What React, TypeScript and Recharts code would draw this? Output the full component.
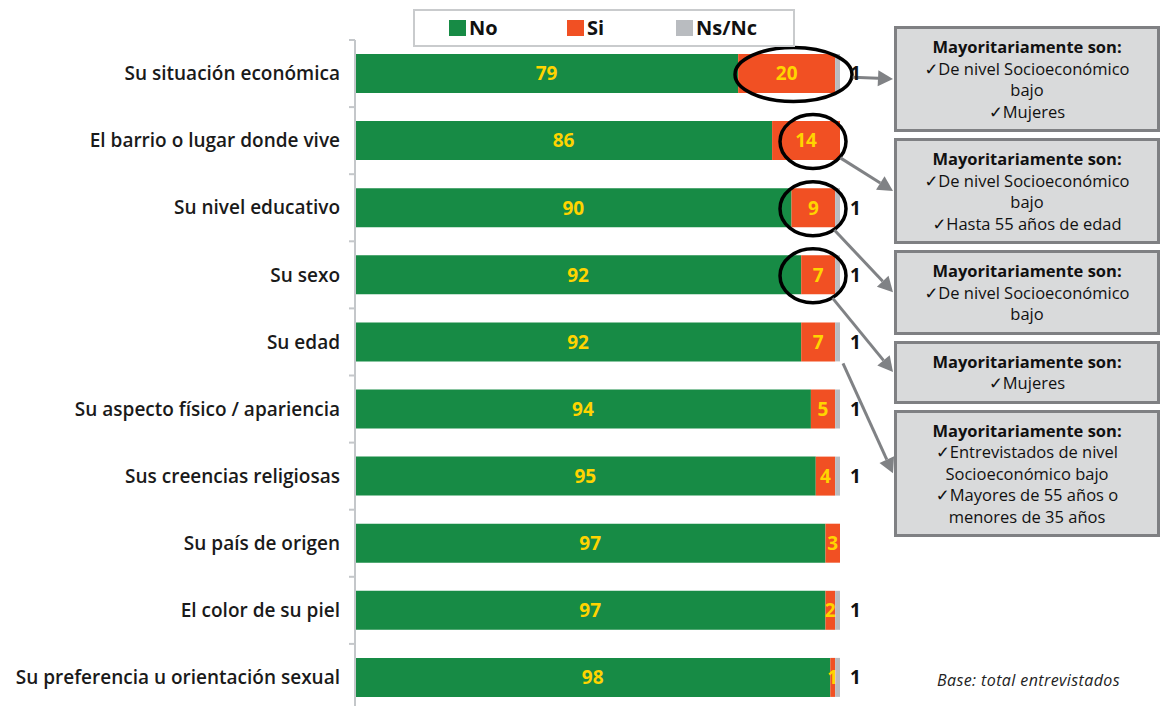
import React from 'react';
import { BarChart, Bar, XAxis, YAxis, LabelList, Legend } from 'recharts';

const categories = [
  'Su situación económica',
  'El barrio o lugar donde vive',
  'Su nivel educativo',
  'Su sexo',
  'Su edad',
  'Su aspecto físico / apariencia',
  'Sus creencias religiosas',
  'Su país de origen',
  'El color de su piel',
  'Su preferencia u orientación sexual',
];
const noValues = [79, 86, 90, 92, 92, 94, 95, 97, 97, 98];
const siValues = [20, 14, 9, 7, 7, 5, 4, 3, 2, 1];
const nsncValues = [1, 0, 1, 1, 1, 1, 1, 0, 1, 1];
const seriesKeys = ['no', 'si', 'nsnc'];
const seriesNames = ['No', 'Si', 'Ns/Nc'];
const highlightedRows = [0, 1, 2, 3];
const noteRows = [0, 1, 2, 3, 4];
const noteLines = [
  ['Mayoritariamente son:', '✓De nivel Socioeconómico', 'bajo', '✓Mujeres'],
  ['Mayoritariamente son:', '✓De nivel Socioeconómico', 'bajo', '✓Hasta 55 años de edad'],
  ['Mayoritariamente son:', '✓De nivel Socioeconómico', 'bajo'],
  ['Mayoritariamente son:', '✓Mujeres'],
  ['Mayoritariamente son:', '✓Entrevistados de nivel', 'Socioeconómico bajo', '✓Mayores de 55 años o', 'menores de 35 años'],
];
const baseNote = 'Base: total entrevistados';

const data = categories.map((c, i) => ({
  category: c,
  no: noValues[i],
  si: siValues[i],
  nsnc: nsncValues[i],
}));

// layout / style
const COLORS = ['#178B45', '#F15023', '#B9BCC0'];
const LABEL_YELLOW = '#FFD400';
const AXIS_COLOR = '#C4C7CA';
const FONT = '"Open Sans", "DejaVu Sans", sans-serif';
const CHART_W = 1160;
const CHART_H = 711;
const MARGIN = { top: 40, right: 320, bottom: 0, left: 0 };
const Y_AXIS_W = 355;
const PLOT_LEFT = MARGIN.left + Y_AXIS_W;
const PLOT_W = CHART_W - MARGIN.right - PLOT_LEFT;
const PX = PLOT_W / 100;
const BAND = (CHART_H - MARGIN.top - MARGIN.bottom) / categories.length;

const BOX_LEFT = 894;
const BOX_TOP0 = 26;
const BOX_GAP = 6;
const LINE_H = 21.5;
const BOX_PAD = 7;
const BOX_BORDER = 3;
const boxHeights = noteLines.map((l) => l.length * LINE_H + 2 * BOX_PAD + 2 * BOX_BORDER);
const boxTops = boxHeights.map((_, i) => BOX_TOP0 + boxHeights.slice(0, i).reduce((a, b) => a + b + BOX_GAP, 0));

const CategoryTick = (props: any) => {
  const { y, payload } = props;
  return (
    <g>
      <line x1={PLOT_LEFT - 6} x2={PLOT_LEFT} y1={y - BAND / 2} y2={y - BAND / 2} stroke={AXIS_COLOR} strokeWidth={2} />
      <text
        x={PLOT_LEFT - 15}
        y={y}
        dy="0.35em"
        textAnchor="end"
        fontFamily={FONT}
        fontWeight={600}
        fontSize={19}
        fill="#1A1A1A"
      >
        {payload.value}
      </text>
    </g>
  );
};

const getBox = (props: any) => {
  const vb = props.viewBox && props.viewBox.height !== undefined ? props.viewBox : props;
  return { x: Number(vb.x), y: Number(vb.y), width: Number(vb.width), height: Number(vb.height) };
};
const getIndex = (props: any, b: { y: number; height: number }) => {
  if (typeof props.index === 'number') return props.index;
  return Math.round((b.y + b.height / 2 - MARGIN.top - BAND / 2) / BAND);
};

const renderInside = (props: any) => {
  const b = getBox(props);
  const v = props.value;
  if (!v) return null;
  return (
    <text
      x={b.x + b.width / 2}
      y={b.y + b.height / 2}
      dy="0.36em"
      textAnchor="middle"
      fontFamily={FONT}
      fontWeight={700}
      fontSize={19}
      fill={LABEL_YELLOW}
    >
      {v}
    </text>
  );
};

const renderOutside = (props: any) => {
  const b = getBox(props);
  const v = props.value;
  if (!v) return null;
  return (
    <text
      x={b.x + b.width + 10}
      y={b.y + b.height / 2}
      dy="0.36em"
      textAnchor="start"
      fontFamily={FONT}
      fontWeight={700}
      fontSize={19}
      fill="#111"
    >
      {v}
    </text>
  );
};

const renderHighlight = (props: any) => {
  const b = getBox(props);
  const index = getIndex(props, b);
  const cy = b.y + b.height / 2;
  const barEnd = b.x + b.width + nsncValues[index] * PX;
  const noteIdx = noteRows.indexOf(index);
  const parts: any[] = [];
  let sx = barEnd + 3;
  let sy = b.y + b.height + 2;
  let tx = 0;
  let ty = 0;
  if (noteIdx >= 0) {
    tx = BOX_LEFT - 1;
    ty = boxTops[noteIdx] + boxHeights[noteIdx] / 2;
  }
  if (highlightedRows.includes(index)) {
    const wide = b.width > 80;
    const rx = wide ? b.width / 2 + 10 : 33;
    const ry = 27;
    const cx = barEnd + (wide ? 12 : 6) - rx;
    const ecy = cy + 1;
    parts.push(<ellipse key="e" cx={cx} cy={ecy} rx={rx} ry={ry} fill="none" stroke="#000" strokeWidth={3.5} />);
    if (noteIdx >= 0) {
      const a = Math.atan2((ty - ecy) / ry, (tx - cx) / rx);
      sx = cx + rx * Math.cos(a) + 1;
      sy = ecy + ry * Math.sin(a);
    }
  }
  if (noteIdx >= 0) {
    const dx = tx - sx;
    const dy = ty - sy;
    const len = Math.sqrt(dx * dx + dy * dy);
    const ux = dx / len;
    const uy = dy / len;
    const head = 15;
    const hw = 8;
    const bx = tx - ux * head;
    const by = ty - uy * head;
    parts.push(
      <line key="l" x1={sx} y1={sy} x2={bx} y2={by} stroke="#808285" strokeWidth={3} />,
      <polygon
        key="h"
        points={`${tx},${ty} ${bx - uy * hw},${by + ux * hw} ${bx + uy * hw},${by - ux * hw}`}
        fill="#808285"
      />
    );
  }
  return <g>{parts}</g>;
};

const renderLegend = () => {
  const itemX = [34, 152, 261];
  return (
    <div
      style={{
        boxSizing: 'border-box',
        width: 382,
        height: 38,
        border: '2px solid #C9CBCD',
        position: 'relative',
        background: '#fff',
      }}
    >
      {seriesNames.map((name, i) => (
        <div
          key={name}
          style={{ position: 'absolute', left: itemX[i], top: 6, display: 'flex', alignItems: 'center', height: 22 }}
        >
          <span style={{ display: 'inline-block', width: 17, height: 16, background: COLORS[i], marginRight: 3 }} />
          <span style={{ fontFamily: FONT, fontWeight: 700, fontSize: 20, color: '#111', lineHeight: '22px' }}>{name}</span>
        </div>
      ))}
    </div>
  );
};

export default function App() {
  return (
    <div
      style={{
        position: 'fixed',
        left: 0,
        top: 0,
        width: 1160,
        height: 706,
        overflow: 'hidden',
        background: '#fff',
      }}
    >
      <BarChart width={CHART_W} height={CHART_H} data={data} layout="vertical" margin={MARGIN} barSize={39}>
        <XAxis type="number" domain={[0, 100]} hide />
        <YAxis
          type="category"
          dataKey="category"
          width={Y_AXIS_W}
          axisLine={{ stroke: AXIS_COLOR, strokeWidth: 2 }}
          tickLine={false}
          tick={<CategoryTick />}
          interval={0}
        />
        <Legend
          layout="horizontal"
          verticalAlign="middle"
          align="center"
          content={renderLegend}
          wrapperStyle={{ top: 9, left: 413, width: 382, height: 38 }}
        />
        <Bar dataKey={seriesKeys[0]} name={seriesNames[0]} stackId="a" fill={COLORS[0]} isAnimationActive={false}>
          <LabelList dataKey={seriesKeys[0]} content={renderInside} />
        </Bar>
        <Bar dataKey={seriesKeys[1]} name={seriesNames[1]} stackId="a" fill={COLORS[1]} isAnimationActive={false}>
          <LabelList dataKey={seriesKeys[1]} content={renderInside} />
          <LabelList dataKey={seriesKeys[1]} content={renderHighlight} />
        </Bar>
        <Bar dataKey={seriesKeys[2]} name={seriesNames[2]} stackId="a" fill={COLORS[2]} isAnimationActive={false}>
          <LabelList dataKey={seriesKeys[2]} content={renderOutside} />
        </Bar>
      </BarChart>
      {noteLines.map((lines, i) => (
        <div
          key={i}
          style={{
            position: 'absolute',
            left: BOX_LEFT,
            top: boxTops[i],
            width: 266,
            height: boxHeights[i],
            boxSizing: 'border-box',
            border: `${BOX_BORDER}px solid #7F8083`,
            background: '#D9DADB',
            padding: `${BOX_PAD}px 4px`,
            textAlign: 'center',
            fontFamily: FONT,
            fontSize: 16.5,
            lineHeight: `${LINE_H}px`,
            color: '#111',
          }}
        >
          {lines.map((t, j) => (
            <div key={j} style={{ fontWeight: j === 0 ? 700 : 400, whiteSpace: 'nowrap' }}>
              {t}
            </div>
          ))}
        </div>
      ))}
      <div
        style={{
          position: 'absolute',
          left: 937,
          top: 669,
          fontFamily: FONT,
          fontStyle: 'italic',
          fontSize: 16,
          letterSpacing: 0.4,
          color: '#222',
          whiteSpace: 'nowrap',
        }}
      >
        {baseNote}
      </div>
    </div>
  );
}
